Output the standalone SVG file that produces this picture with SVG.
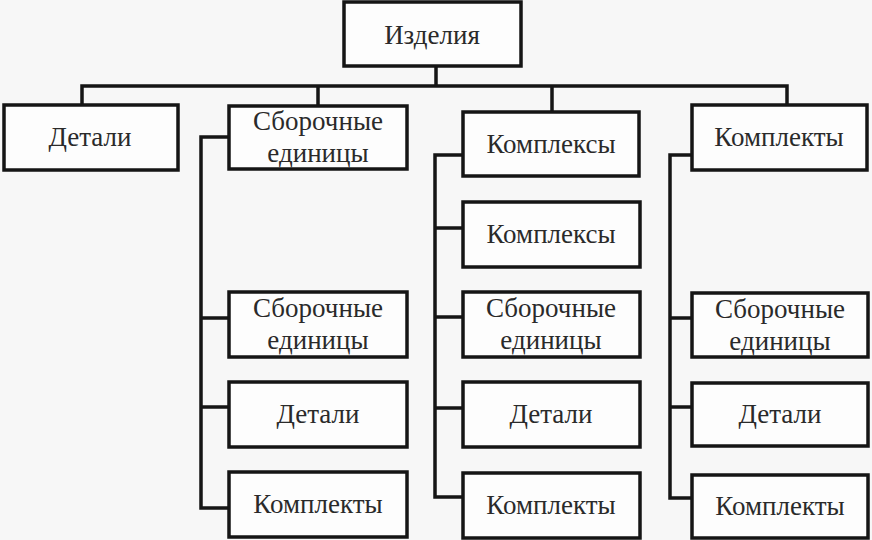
<svg xmlns="http://www.w3.org/2000/svg" width="872" height="540" viewBox="0 0 872 540">
<style>
.box{fill:#fdfdfd;stroke:#151515;stroke-width:3.5}
.ln{fill:none;stroke:#151515;stroke-width:3.5;stroke-linejoin:miter}
text{font-family:"Liberation Serif","Times New Roman",serif;font-size:27px;fill:#2a2a2a;text-anchor:middle}
</style>
<rect width="872" height="540" fill="#f7f7f7"/>
<g id="connectors">
<path class="ln" d="M436,66 V86 M82,105 V86 H787 V105 M318,86 V106 M552,86 V112"/>
<path class="ln" d="M229,137 H201 V508 H229 M201,318 H229 M201,407 H229"/>
<path class="ln" d="M463,155 H435 V497 H463 M435,228 H463 M435,317 H463 M435,408 H463"/>
<path class="ln" d="M692,155 H670 V498 H692 M670,318 H692 M670,407 H692"/>
</g>
<g id="n-izdeliya"><rect class="box" x="344" y="2" width="177" height="64"/><text x="432" y="44">Изделия</text></g>
<g id="n-detali"><rect class="box" x="4" y="105" width="174" height="65"/><text x="90" y="146">Детали</text></g>
<g id="n-sborochnye"><rect class="box" x="229" y="106" width="178" height="63"/><text x="318" y="130">Сборочные</text><text x="318" y="162">единицы</text></g>
<g id="n-kompleksy"><rect class="box" x="463" y="112" width="176" height="64"/><text x="551" y="153">Комплексы</text></g>
<g id="n-komplekty"><rect class="box" x="692" y="105" width="175" height="65"/><text x="779" y="146">Комплекты</text></g>
<g id="c2-sborochnye"><rect class="box" x="229" y="292" width="178" height="65"/><text x="318" y="317">Сборочные</text><text x="318" y="349">единицы</text></g>
<g id="c2-detali"><rect class="box" x="229" y="382" width="178" height="65"/><text x="318" y="423">Детали</text></g>
<g id="c2-komplekty"><rect class="box" x="229" y="472" width="178" height="65"/><text x="318" y="513">Комплекты</text></g>
<g id="c3-kompleksy"><rect class="box" x="463" y="202" width="177" height="65"/><text x="551" y="243">Комплексы</text></g>
<g id="c3-sborochnye"><rect class="box" x="463" y="292" width="177" height="65"/><text x="551" y="317">Сборочные</text><text x="551" y="349">единицы</text></g>
<g id="c3-detali"><rect class="box" x="463" y="382" width="177" height="65"/><text x="551" y="423">Детали</text></g>
<g id="c3-komplekty"><rect class="box" x="463" y="473" width="177" height="65"/><text x="551" y="514">Комплекты</text></g>
<g id="c4-sborochnye"><rect class="box" x="692" y="293" width="176" height="64"/><text x="780" y="318">Сборочные</text><text x="780" y="350">единицы</text></g>
<g id="c4-detali"><rect class="box" x="692" y="383" width="176" height="63"/><text x="780" y="423">Детали</text></g>
<g id="c4-komplekty"><rect class="box" x="692" y="475" width="176" height="63"/><text x="780" y="515">Комплекты</text></g>
</svg>
